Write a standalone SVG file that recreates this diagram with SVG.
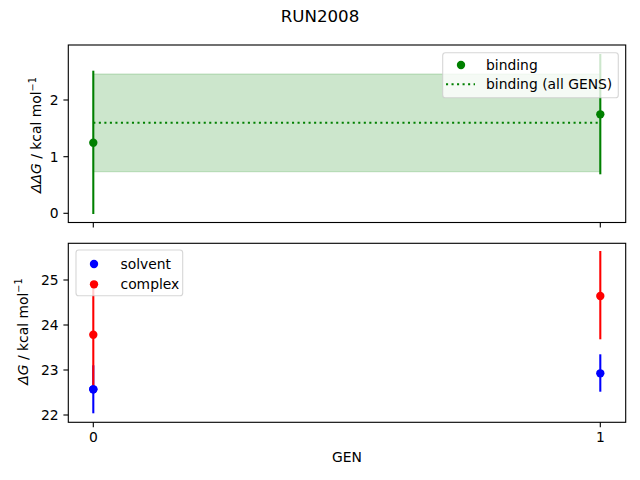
<svg xmlns="http://www.w3.org/2000/svg" width="640" height="480" viewBox="0 0 640 480">
<style>
text{font-family:"DejaVu Sans","Liberation Sans",sans-serif;fill:#000}
.tk{font-size:13.89px}
.tick{stroke:#000;stroke-width:1.11}
.spine{fill:none;stroke:#000;stroke-width:1.11}
.lg{fill:#fff;fill-opacity:0.8;stroke:#ccc;stroke-opacity:0.8;stroke-width:1.11}
.eg{stroke:#008000;stroke-width:2.08}
.eb{stroke:#0000ff;stroke-width:2.08}
.er{stroke:#ff0000;stroke-width:2.08}
</style>
<rect width="640" height="480" fill="#fff"/>
<text id="title" x="320" y="22.3" text-anchor="middle" font-size="16.67px">RUN2008</text>

<g id="top-axes">
<rect x="68.3" y="45" width="557.4" height="177.5" fill="#fff"/>
<rect id="band" x="93.3" y="74" width="507" height="97.7" fill="#008000" fill-opacity="0.2" stroke="#008000" stroke-opacity="0.2" stroke-width="1.11"/>
<line id="avg" x1="93.3" y1="122.7" x2="600.3" y2="122.7" stroke="#008000" stroke-width="2.08" stroke-dasharray="2.08 3.44"/>
<g id="binding">
<line class="eg" x1="93.3" y1="70.7" x2="93.3" y2="214"/>
<line class="eg" x1="600.3" y1="54" x2="600.3" y2="174.3"/>
<circle cx="93.3" cy="142.7" r="4.17" fill="#008000"/>
<circle cx="600.3" cy="114.3" r="4.17" fill="#008000"/>
</g>
<rect class="spine" x="68.3" y="45" width="557.4" height="177.5"/>
<g class="tick">
<line x1="63.4" y1="213.3" x2="68.3" y2="213.3"/>
<line x1="63.4" y1="156.7" x2="68.3" y2="156.7"/>
<line x1="63.4" y1="100" x2="68.3" y2="100"/>
<line x1="93.3" y1="222.5" x2="93.3" y2="227.4"/>
<line x1="600.3" y1="222.5" x2="600.3" y2="227.4"/>
</g>
<g class="tk" text-anchor="end">
<text x="58.6" y="218.3">0</text>
<text x="58.6" y="161.7">1</text>
<text x="58.6" y="105">2</text>
</g>
<text transform="translate(41,135) rotate(-90)" text-anchor="middle" class="tk"><tspan font-style="italic">ΔΔG</tspan> / kcal mol<tspan dy="-5.5" font-size="9.7px">−1</tspan></text>
<g id="legend-top">
<rect class="lg" x="442.7" y="52.7" width="175.6" height="45" rx="2.8"/>
<circle cx="461" cy="65" r="4.17" fill="#008000"/>
<line x1="446" y1="84.3" x2="475" y2="84.3" stroke="#008000" stroke-width="2.08" stroke-dasharray="2.08 3.44"/>
<text class="tk" x="486" y="69.5">binding</text>
<text class="tk" x="486" y="89">binding (all GENS)</text>
</g>
</g>

<g id="bottom-axes">
<rect x="68.3" y="243.3" width="557.4" height="179" fill="#fff"/>
<g id="solvent">
<line class="eb" x1="93.3" y1="365.3" x2="93.3" y2="413.3"/>
<circle cx="93.3" cy="389.3" r="4.17" fill="#0000ff"/>
<line class="eb" x1="600.3" y1="354.3" x2="600.3" y2="391.7"/>
<circle cx="600.3" cy="373.3" r="4.17" fill="#0000ff"/>
</g>
<g id="complex">
<line class="er" x1="93.3" y1="284.5" x2="93.3" y2="385.5"/>
<circle cx="93.3" cy="334.7" r="4.17" fill="#ff0000"/>
<line class="er" x1="600.3" y1="251" x2="600.3" y2="339.3"/>
<circle cx="600.3" cy="296" r="4.17" fill="#ff0000"/>
</g>
<circle cx="93.3" cy="389.3" r="4.17" fill="#0000ff"/>
<rect class="spine" x="68.3" y="243.3" width="557.4" height="179"/>
<g class="tick">
<line x1="63.4" y1="415" x2="68.3" y2="415"/>
<line x1="63.4" y1="370" x2="68.3" y2="370"/>
<line x1="63.4" y1="325" x2="68.3" y2="325"/>
<line x1="63.4" y1="280" x2="68.3" y2="280"/>
<line x1="93.3" y1="422.3" x2="93.3" y2="427.2"/>
<line x1="600.3" y1="422.3" x2="600.3" y2="427.2"/>
</g>
<g class="tk" text-anchor="end">
<text x="58.6" y="420">22</text>
<text x="58.6" y="375">23</text>
<text x="58.6" y="330">24</text>
<text x="58.6" y="285">25</text>
</g>
<g class="tk" text-anchor="middle">
<text x="93.3" y="442">0</text>
<text x="600.3" y="442">1</text>
<text x="347" y="462">GEN</text>
</g>
<text transform="translate(27.5,331.5) rotate(-90)" text-anchor="middle" class="tk"><tspan font-style="italic">ΔG</tspan> / kcal mol<tspan dy="-5.5" font-size="9.7px">−1</tspan></text>
<g id="legend-bottom">
<rect class="lg" x="76" y="250" width="106.7" height="45.7" rx="2.8"/>
<circle cx="94" cy="264" r="4.17" fill="#0000ff"/>
<circle cx="94" cy="284.3" r="4.17" fill="#ff0000"/>
<text class="tk" x="120.5" y="268.5">solvent</text>
<text class="tk" x="120.5" y="288.8">complex</text>
</g>
</g>
</svg>
